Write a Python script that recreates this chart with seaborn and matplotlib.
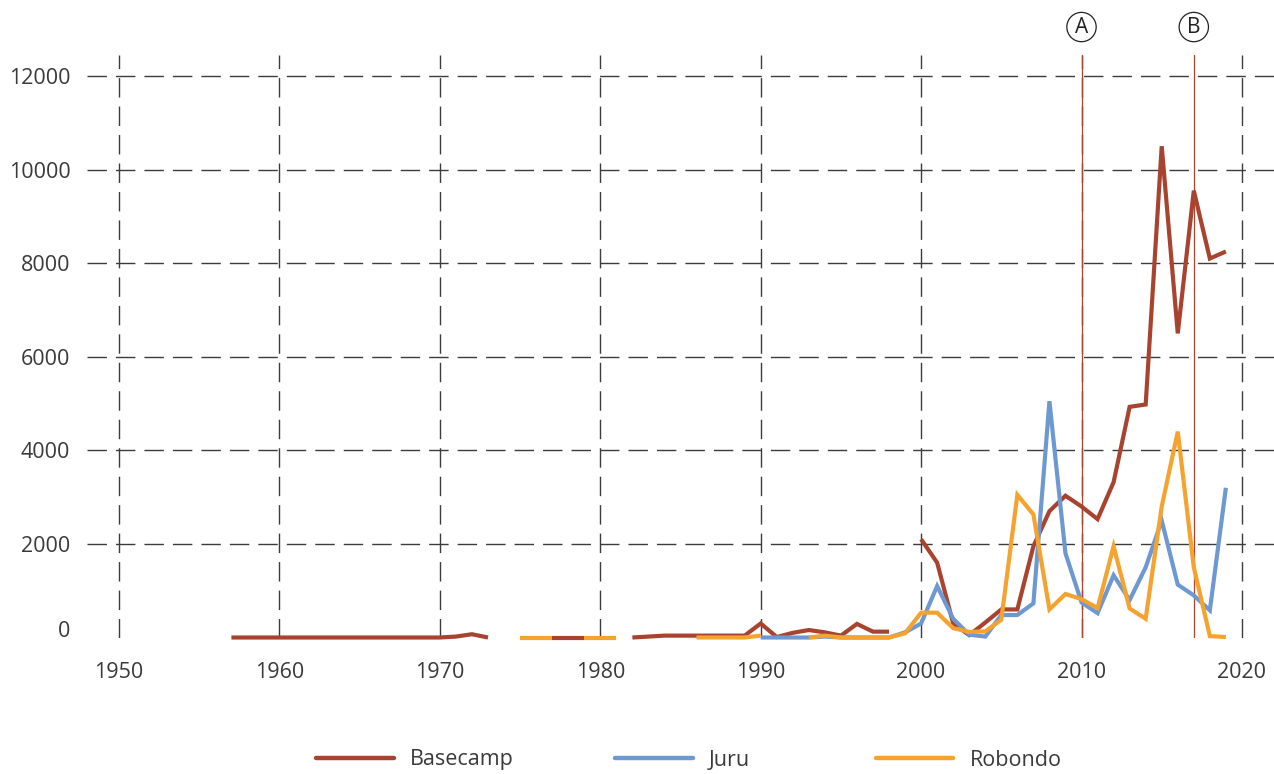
import numpy as np
import pandas as pd
import matplotlib
matplotlib.use("Agg")
import matplotlib.pyplot as plt
import matplotlib.transforms as mtransforms
from matplotlib.lines import Line2D
import seaborn as sns

nan = np.nan

# ---- data -------------------------------------------------------------
years = list(range(1957, 2020))

basecamp = [0, 0, 0, 0, 0, 0, 0, 0, 0, 0,
            0, 0, 0, 0, 20, 70, 0, nan, nan, nan,
            0, 0, 0, nan, nan, 0, 20, 40, 40, 40,
            40, 40, 40, 300, 10, 100, 160, 110, 40, 290,
            125, 125, nan, 2100, 1600, 300, 50, 320, 600, 600,
            1950, 2700, 3030, 2800, 2530, 3320, 4930, 4980, 10500, 6500,
            9550, 8100, 8250]

juru = [nan] * 30 + [
        nan, nan, nan, 0, 0, 0, 0, 20, 0, 0,
        0, 0, 110, 300, 1100, 400, 60, 20, 480, 480,
        730, 5050, 1800, 750, 520, 1330, 800, 1500, 2500, 1130,
        900, 580, 3200]

robondo = [nan] * 18 + [
        0, 0,
        0, nan, 0, 0, 0, nan, nan, nan, nan, 0,
        0, 0, 0, 40, nan, nan, 0, 40, 0, 0,
        0, 0, 90, 530, 530, 200, 120, 130, 380, 3050,
        2630, 600, 930, 820, 630, 1950, 620, 400, 2800, 4400,
        1500, 30, 10]

series_names = ["Basecamp", "Juru", "Robondo"]
series_values = [basecamp, juru, robondo]
series_colors = ["#a8432f", "#6e98d0", "#f6a22e"]

x_ticks = list(range(1950, 2021, 10))
y_ticks = list(range(0, 12001, 2000))

markers = [2010, 2017]
marker_labels = ["A", "B"]

# ---- style ------------------------------------------------------------
sns.set_style("white")
plt.rcParams["font.family"] = ["Open Sans", "DejaVu Sans"]
plt.rcParams["lines.scale_dashes"] = False
text_color = "#3a3a3a"
grid_color = "#3c3c3c"

W, H = 1274, 774
fig = plt.figure(figsize=(W / 100, H / 100), dpi=100)
ax = fig.add_axes([87 / W, 1 - 637.5 / H, 1 - 87 / W, (637.5 - 55) / H])

# long-form table; a new segment starts after every gap so gaps stay open
frames = []
for name, vals in zip(series_names, series_values):
    df = pd.DataFrame({"year": years, "value": vals, "series": name})
    df["segment"] = df["value"].isna().cumsum()
    frames.append(df.dropna())
data = pd.concat(frames, ignore_index=True)

for name, color in zip(series_names, series_colors):
    sns.lineplot(data=data[data["series"] == name], x="year", y="value",
                 units="segment", estimator=None, color=color,
                 linewidth=3.0, ax=ax, legend=False, clip_on=False,
                 solid_joinstyle="miter", solid_capstyle="butt", zorder=3)

# reference lines with circled labels
for yr, lab in zip(markers, marker_labels):
    ax.axvline(yr, color="#b0412c", linewidth=0.9, zorder=2.5)
    ax.text(yr, 1.048, lab, transform=ax.get_xaxis_transform(),
            ha="center", va="center", fontsize=15, color="#222222",
            bbox=dict(boxstyle="circle,pad=0.2", fc="white",
                      ec="#222222", lw=0.9), clip_on=False)

# axes, grid, ticks
ax.set_xlim(1948, 2022)
ax.set_ylim(0, 12450)
ax.set_xticks(x_ticks)
ax.set_yticks(y_ticks)
ax.set_xticklabels([str(v) for v in x_ticks])
ax.set_yticklabels([str(v) for v in y_ticks])
ax.set_xlabel("")
ax.set_ylabel("")
for s in ax.spines.values():
    s.set_visible(False)

ax.grid(True, axis="both", color=grid_color, linewidth=1.0,
        linestyle=(0, (14, 6.5)), zorder=1)
ax.yaxis.get_gridlines()[0].set_visible(False)

ax.tick_params(axis="both", length=0, labelsize=15.5, labelcolor=text_color)
ax.tick_params(axis="x", pad=18)
ax.tick_params(axis="y", pad=12)

# lift the zero label a little above the baseline
zero_lab = ax.yaxis.get_majorticklabels()[0]
zero_lab.set_transform(zero_lab.get_transform() +
                       mtransforms.ScaledTranslation(0, 6 / 72, fig.dpi_scale_trans))

# legend: one entry per series, each placed at its own start position
legend_x = [316, 615, 876]
for name, color, x0 in zip(series_names, series_colors, legend_x):
    leg = fig.legend([Line2D([0], [0], color=color, linewidth=3.2)], [name],
                     loc="center left", bbox_to_anchor=(x0 / W, 14 / H),
                     frameon=False, fontsize=15.5, labelcolor=text_color,
                     handlelength=3.6, handletextpad=0.75,
                     borderpad=0, borderaxespad=0)

fig.savefig("out.png", dpi=100)
